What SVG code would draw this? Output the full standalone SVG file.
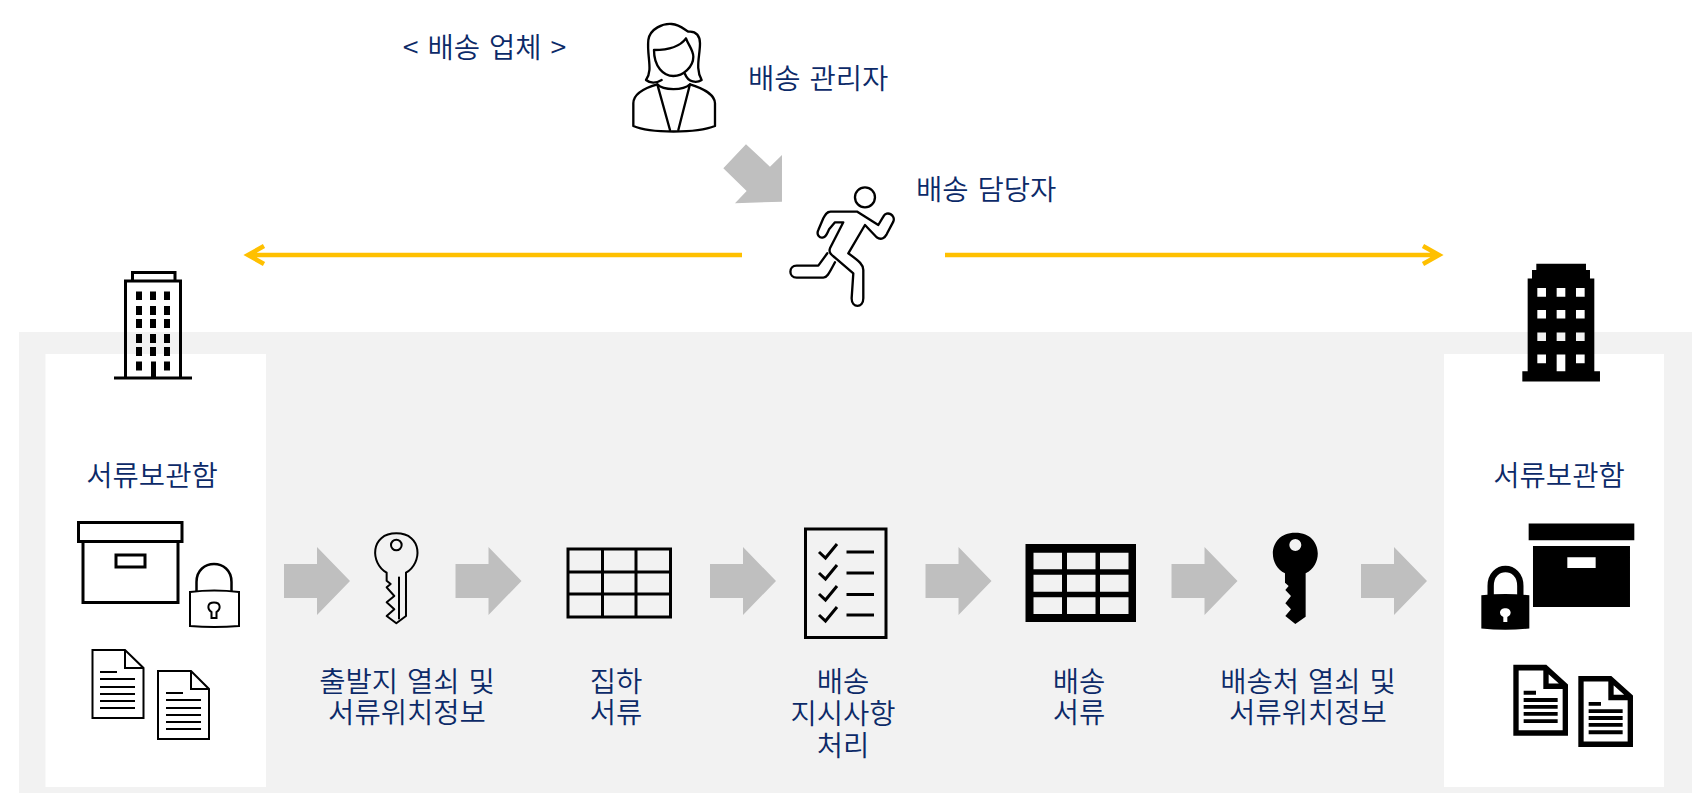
<svg xmlns="http://www.w3.org/2000/svg" width="1692" height="793" viewBox="0 0 1692 793">
<style>
text{font-family:"Noto Sans CJK KR","Liberation Sans",sans-serif;font-size:28.600px;font-weight:350;word-spacing:2.500px;fill:#0c2a68;text-anchor:middle}
.s{text-anchor:start}
.o{fill:none;stroke:#000;stroke-width:3}
.oz{fill:none;stroke:#000;stroke-width:7;stroke-linejoin:round;stroke-linecap:round}
.g{fill:#bfbfbf}
.y{fill:none;stroke:#ffc000;stroke-width:4.500}
.b{fill:#000}
</style>
<defs>
<polygon id="ga" class="g" points="0,17 33,17 33,0 66,34 33,68 33,51 0,51"/>
</defs>
<rect width="1692" height="793" fill="#fff"/>
<rect id="panel" x="19" y="332" width="1673" height="461" fill="#f2f2f2"/>
<rect id="store-left" x="45.500" y="354" width="220.500" height="433" fill="#fff"/>
<rect id="store-right" x="1444" y="354" width="220" height="433" fill="#fff"/>

<g id="connectors">
<use href="#ga" x="284" y="547"/>
<use href="#ga" x="455.500" y="547"/>
<use href="#ga" x="710" y="547"/>
<use href="#ga" x="925.500" y="547"/>
<use href="#ga" x="1171.500" y="547"/>
<use href="#ga" x="1361" y="547"/>
<polygon class="g" transform="translate(600,0) scale(.3333)" points="370,505 438,433 510,500 546,465 546,605 405,610 440,573"/>
<path class="y" d="M742 255H248M264 246L248 255L264 264"/>
<path class="y" d="M945 255H1439M1423 246L1439 255L1423 264"/>
</g>

<g id="manager">
<g transform="translate(600,0) scale(.3333)">
<path class="oz" d="M185 240C165 252 148 248 138 240C160 210 140 170 145 120C150 85 190 70 215 72C240 74 255 90 265 95C290 92 300 110 300 130C300 170 285 205 305 240C290 250 265 248 255 222"/>
<path class="oz" d="M162 150C200 150 240 140 258 115C265 135 280 150 280 170C280 200 250 228 220 228C190 228 162 200 162 150Z"/>
<path class="oz" d="M100 378L100 310C100 285 130 265 172 253C190 272 250 272 270 253C310 265 345 285 345 310L345 378C290 400 150 400 100 378Z"/>
<path class="oz" d="M172 253L210 390M270 253L235 390"/>
</g>
<text class="s" x="748" y="89">배송 관리자</text>
</g>

<g id="courier">
<g transform="translate(600,0) scale(.3333)">
<circle class="oz" cx="795" cy="592" r="30"/>
<path class="oz" d="M772 635L692 635C680 635 675 645 670 655L655 690C648 705 660 716 670 712C680 710 683 695 688 687L705 667L730 667L690 745C685 758 695 765 705 773L760 820L755 895C755 925 790 925 790 895L790 810C790 795 780 785 745 760L795 675L830 712C845 722 855 712 860 703L880 665C888 645 860 630 850 650L835 675L772 635"/>
<path class="oz" d="M682 760L655 797L590 797C565 797 565 833 590 833L670 833C680 833 685 825 705 787"/>
</g>
<text class="s" x="916" y="200">배송 담당자</text>
</g>

<text id="company" x="484.500" y="58">&lt; 배송 업체 &gt;</text>

<g id="origin">
<path class="o" d="M114 378H192M125.500 378V281H180.500V378M132.500 281V272.500H175V281"/>
<path class="b" d="M136 291.500h6v8.500h-6zM150 291.500h6v8.500h-6zM164 291.500h6v8.500h-6zM136 306h6v9h-6zM150 306h6v9h-6zM164 306h6v9h-6zM136 319h6v9h-6zM150 319h6v9h-6zM164 319h6v9h-6zM136 334h6v9h-6zM150 334h6v9h-6zM164 334h6v9h-6zM136 347h6v9h-6zM150 347h6v9h-6zM164 347h6v9h-6zM136 361.500h6v9h-6zM164 361.500h6v9h-6zM151 361.500h5v16h-5z"/>
<text x="152" y="486">서류보관함</text>
<path class="o" d="M78.500 522.500H182V541.500H78.500ZM83 541.500V602.500H178V541.500M116 555H145V567H116Z"/>
<path d="M190 592Q214 589 239 592V626Q214 628 190 626Z" fill="none" stroke="#000" stroke-width="2"/>
<path fill="none" stroke="#000" stroke-width="2.500" d="M196.500 591V582C196.500 558 231.500 558 231.500 582V591"/>
<path fill="none" stroke="#000" stroke-width="2" d="M211.500 618V612C207 609 207 602.500 214 602.500C221 602.500 221 609 216.500 612V618Z"/>
<path fill="none" stroke="#000" stroke-width="2" d="M92.500 650H125L143.500 668V718H92.500ZM125 650V668H143.500M100 672H117M100 679H135M100 687H135M100 694H135M100 701H135M100 708H135"/>
<path fill="none" stroke="#000" stroke-width="2" d="M158 671H191L209 689V739H158ZM191 671V689H209M166 693H183M166 700H201M166 708H201M166 715H201M166 722H201M166 729H201"/>
</g>

<g id="key-origin">
<g transform="translate(270,510) scale(.3333)">
<path fill="none" stroke="#000" stroke-width="6" stroke-linejoin="round" d="M350 188C300 160 300 70 379 70C458 70 458 160 408 188L408 318L379 340L350 318L373 298L350 277L373 258L350 232L362 222L350 212Z"/>
<circle fill="none" stroke="#000" stroke-width="6" cx="379" cy="105" r="16"/>
<path fill="none" stroke="#000" stroke-width="6" d="M387 200V328"/>
</g>
<text x="407" y="692"><tspan x="407">출발지 열쇠 및</tspan><tspan x="407" dy="31">서류위치정보</tspan></text>
</g>

<g id="grid-white">
<path class="o" d="M568 549H670.500V617H568ZM602.500 549V617M636 549V617M568 572H670.500M568 594H670.500"/>
<text x="616" y="692"><tspan x="616">집하</tspan><tspan x="616" dy="31">서류</tspan></text>
</g>

<g id="checklist">
<rect class="o" x="805.500" y="529" width="80.500" height="108.500"/>
<path fill="none" stroke="#000" stroke-width="3" d="M819 552L825.500 558L837 544M846.500 552H874M819 573L825.500 579L837 565M846.500 573H874M819 594L825.500 600L837 586M846.500 594.500H874M819 615L825.500 621L837 607M846.500 615H874"/>
<text x="843" y="692"><tspan x="843">배송</tspan><tspan x="843" dy="32">지시사항</tspan><tspan x="843" dy="32">처리</tspan></text>
</g>

<g id="grid-black">
<path class="b" fill-rule="evenodd" d="M1025.500 544H1136V622H1025.500ZM1033.500 552.700V569.300H1062V552.700ZM1067 552.700V569.300H1095.500V552.700ZM1100 552.700V569.300H1128.500V552.700ZM1033.500 574.700V591.700H1062V574.700ZM1067 574.700V591.700H1095.500V574.700ZM1100 574.700V591.700H1128.500V574.700ZM1033.500 597.300V614H1062V597.300ZM1067 597.300V614H1095.500V597.300ZM1100 597.300V614H1128.500V597.300Z"/>
<text x="1079" y="692"><tspan x="1079">배송</tspan><tspan x="1079" dy="31">서류</tspan></text>
</g>

<g id="key-dest">
<g transform="translate(1160,510) scale(.3333)">
<path class="b" fill-rule="evenodd" d="M375 190C320 165 325 68 406 68C487 68 492 165 437 190V320L406 342L376 318L393 298L376 280L393 258L376 240L386 228L375 218ZM388 105A18 18 0 1 0 424 105A18 18 0 1 0 388 105Z"/>
</g>
<text x="1308" y="692"><tspan x="1308">배송처 열쇠 및</tspan><tspan x="1308" dy="31">서류위치정보</tspan></text>
</g>

<g id="destination">
<g transform="translate(1440,250) scale(.3333,.3463)">
<path class="b" fill-rule="evenodd" d="M247 380V350H263V82H276V58H289V40H438V58H450V82H463V350H480V380ZM292 110V135H318V110ZM350 110V135H376V110ZM408 110V135H434V110ZM292 173V198H318V173ZM350 173V198H376V173ZM408 173V198H434V173ZM292 238V263H318V238ZM350 238V263H376V238ZM408 238V263H434V238ZM292 302V327H318V302ZM350 302V350H376V302ZM408 302V327H434V302Z"/>
<path class="b" d="M266 790H583V838H266Z"/>
<path class="b" fill-rule="evenodd" d="M279 855H570V1031H279ZM382 887V918H467V887Z"/>
<path class="b" fill-rule="evenodd" d="M124 997Q196 990 268 997V1093Q196 1100 124 1093ZM180 1047C180 1030 212 1030 212 1047C212 1054 206 1058 202 1060V1074H190V1060C186 1058 180 1054 180 1047Z"/>
<path fill="none" stroke="#000" stroke-width="19" d="M152 997V970C152 905 241 905 241 970V997"/>
<g id="doc-a">
<path fill="none" stroke="#000" stroke-width="16" d="M228 1206H316L376 1258V1395H228ZM318 1206V1260H376"/>
<path class="b" d="M251 1273h37v11h-37zM251 1294h102v11h-102zM251 1314h102v11h-102zM251 1334h102v11h-102zM251 1355h102v11h-102z"/>
</g>
<use href="#doc-a" x="195" y="32"/>
</g>
<text x="1559" y="486">서류보관함</text>
</g>
</svg>
